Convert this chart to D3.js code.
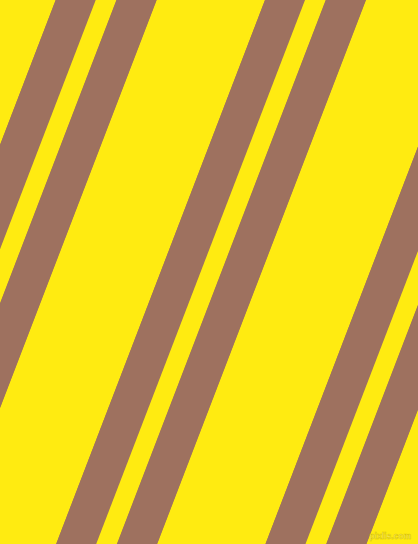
<!DOCTYPE html>
<html><head><meta charset="utf-8">
<script src="https://cdn.jsdelivr.net/npm/d3@7"></script>
<style>html,body{margin:0;padding:0;background:#FFEB11;overflow:hidden}</style>
</head><body>
<script>
// pattern data
const stripeOffsets = [55.7, 116.7, 265, 325.7]; // left edge of each stripe along the top
const stripeWidths = [40, 40, 39.3, 40];
const period = 209.3;
const topToBottomShift = 208.8; // horizontal drift from top to bottom
const repeats = [-2, -1, 0, 1, 2];
const colors = {bg: "#FFEB11", stripe: "#9E715F"};

const W = 418, H = 544;
const svg = d3.select("body").append("svg").attr("width", W).attr("height", H);
svg.append("rect").attr("width", W).attr("height", H).attr("fill", colors.bg);

const y = d3.scaleLinear().domain([0, 1]).range([0, H]);
const drift = d3.scaleLinear().domain([0, 1]).range([0, -topToBottomShift]);

const stripes = [];
repeats.forEach(k => stripeOffsets.forEach((o, i) => stripes.push({x: o + k * period, w: stripeWidths[i]})));

const line = d3.line();
svg.append("g").selectAll("path").data(stripes).join("path")
  .attr("fill", colors.stripe)
  .attr("d", d => line([
    [d.x + drift(0), y(0)], [d.x + d.w + drift(0), y(0)],
    [d.x + d.w + drift(1), y(1)], [d.x + drift(1), y(1)]
  ]) + "Z");

svg.append("text").attr("x", 411).attr("y", 539).attr("text-anchor", "end")
  .attr("font-family", "Liberation Sans, Arial, sans-serif").attr("font-size", 8.5).attr("font-weight", "bold")
  .attr("fill", "#FFF06A").attr("stroke", "#D8C300").attr("stroke-width", 0.5)
  .text("pixlis.com");
</script>
</body></html>
